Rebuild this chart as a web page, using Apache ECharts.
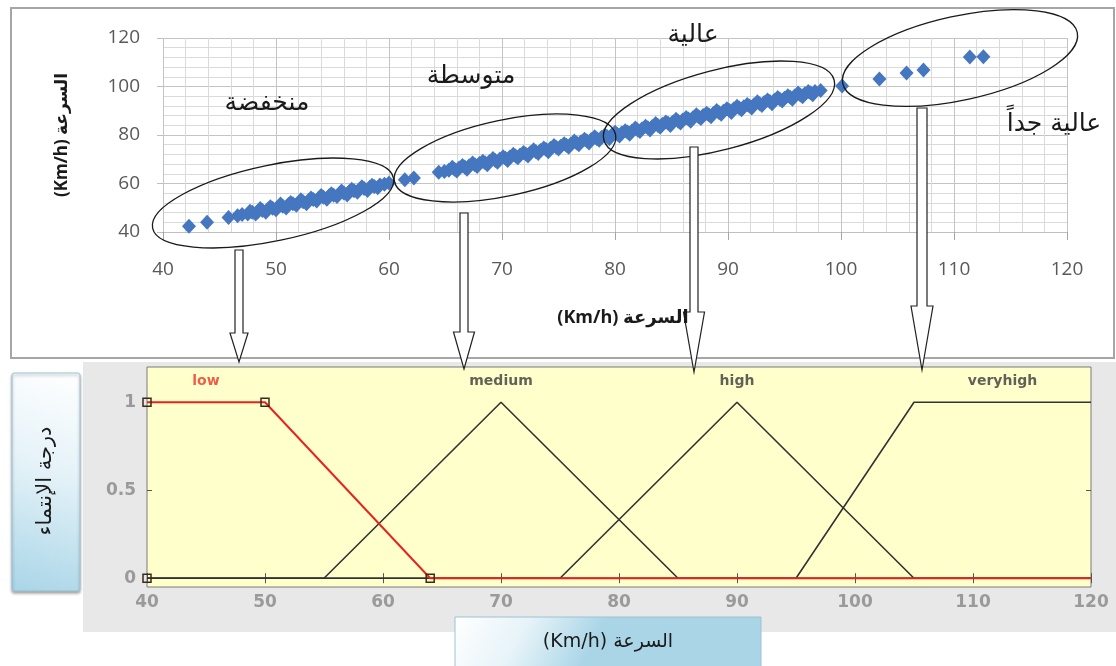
<!DOCTYPE html>
<html><head><meta charset="utf-8">
<script src="https://cdn.jsdelivr.net/npm/echarts@6/dist/echarts.min.js"></script>
<style>html,body{margin:0;padding:0;background:#fff}#c{width:1116px;height:666px}</style>
</head><body><div id="c"></div>
<script>
const speedMain = [[42.3,42.4],[43.9,44.0],[45.8,46.0],[46.6,46.7],[47.0,47.2],[47.5,47.4],[47.9,48.1],[48.4,48.5],[48.8,48.9],[49.3,49.5],[49.7,49.8],[50.2,50.4],[50.6,50.6],[51.1,51.3],[51.5,51.6],[52.0,52.2],[52.4,52.5],[52.9,53.1],[53.3,53.4],[53.8,54.0],[54.2,54.3],[54.7,54.9],[55.1,55.2],[55.6,55.8],[56.0,56.1],[56.5,56.7],[56.9,57.0],[57.4,57.6],[57.8,57.9],[58.3,58.5],[58.7,58.8],[59.2,59.4],[59.6,59.7],[60.0,60.2],[61.4,61.5],[62.2,62.3],[64.4,64.6],[64.9,65.0],[65.3,65.5],[65.8,65.9],[66.2,66.4],[66.7,66.8],[67.1,67.3],[67.6,67.7],[68.0,68.2],[68.5,68.6],[68.9,69.1],[69.4,69.5],[69.8,70.0],[70.3,70.4],[70.7,70.9],[71.2,71.3],[71.6,71.8],[72.1,72.2],[72.5,72.7],[73.0,73.1],[73.4,73.6],[73.9,74.0],[74.3,74.5],[74.8,74.9],[75.2,75.4],[75.7,75.8],[76.1,76.3],[76.6,76.7],[77.0,77.2],[77.5,77.6],[77.9,78.1],[78.4,78.5],[78.8,79.0],[79.3,79.4],[79.7,79.9],[80.2,80.3],[80.6,80.8],[81.1,81.2],[81.5,81.7],[82.0,82.1],[82.4,82.6],[82.9,83.0],[83.3,83.5],[83.8,83.9],[84.2,84.4],[84.7,84.8],[85.1,85.3],[85.6,85.7],[86.0,86.2],[86.5,86.6],[86.9,87.1],[87.4,87.5],[87.8,88.0],[88.3,88.4],[88.7,88.9],[89.2,89.3],[89.6,89.8],[90.1,90.2],[90.5,90.7],[91.0,91.1],[91.4,91.6],[91.9,92.0],[92.3,92.5],[92.8,92.9],[93.2,93.4],[93.7,93.8],[94.1,94.3],[94.6,94.7],[95.0,95.2],[95.5,95.6],[95.9,96.1],[96.4,96.5],[96.8,97.0],[97.3,97.4],[97.7,97.9],[98.2,98.4],[100.1,100.2],[103.4,103.1],[105.8,105.6],[107.3,106.8],[111.4,112.2],[112.6,112.3]];
const speedUpper = [[47.7,48.6],[48.6,49.7],[49.5,50.4],[50.4,51.5],[51.3,52.2],[52.2,53.3],[53.1,54.0],[54.0,55.1],[54.9,55.8],[55.8,56.9],[56.7,57.6],[57.6,58.7],[58.5,59.3],[65.6,66.7],[66.5,67.4],[67.4,68.5],[68.3,69.2],[69.2,70.3],[70.1,71.0],[71.0,72.1],[71.9,72.8],[72.8,73.9],[73.7,74.6],[74.6,75.7],[75.5,76.4],[76.4,77.5],[77.3,78.2],[78.2,79.3],[79.1,80.0],[80.0,81.1],[80.9,81.8],[81.8,82.9],[82.7,83.6],[83.6,84.7],[84.5,85.4],[85.4,86.5],[86.3,87.2],[87.2,88.3],[88.1,89.0],[89.0,90.1],[89.9,90.8],[90.8,91.9],[91.7,92.6],[92.6,93.7],[93.5,94.4],[94.4,95.5],[95.3,96.2],[96.2,97.3],[97.1,97.9]];
const speedLower = [[48.2,47.4],[49.1,48.1],[50.0,49.2],[50.9,49.9],[51.8,51.0],[52.7,51.7],[53.6,52.8],[54.5,53.5],[55.4,54.6],[56.3,55.3],[57.2,56.4],[58.1,57.1],[59.0,58.2],[66.0,65.2],[66.9,65.9],[67.8,67.0],[68.7,67.7],[69.6,68.8],[70.5,69.5],[71.4,70.6],[72.3,71.3],[73.2,72.4],[74.1,73.1],[75.0,74.2],[75.9,74.9],[76.8,76.0],[77.7,76.7],[78.6,77.8],[79.5,78.5],[80.4,79.6],[81.3,80.3],[82.2,81.4],[83.1,82.1],[84.0,83.2],[84.9,83.9],[85.8,85.0],[86.7,85.7],[87.6,86.8],[88.5,87.5],[89.4,88.6],[90.3,89.3],[91.2,90.4],[92.1,91.1],[93.0,92.2],[93.9,92.9],[94.8,94.0],[95.7,94.7],[96.6,95.8],[97.5,96.6]];

// ---------- data (bottom: membership functions) ----------
const mfLow = [[40,1],[50,1],[64,0],[120,0]];
const mfMedium = [[40,0],[55,0],[70,1],[85,0],[120,0]];
const mfHigh = [[40,0],[75,0],[90,1],[105,0],[120,0]];
const mfVeryHigh = [[40,0],[95,0],[105,1],[120,1]];
const lowParams = [[40,1],[50,1],[64,0],[40,0]];
const mfNames = ['low','medium','high','veryhigh'];
const mfLabelX = [45,70,90,112.5];
const mfLabelY = 1.12;
const memberTicks = [0,0.5,1];

// ---------- texts ----------
const regionNames = ['منخفضة','متوسطة','عالية','عالية جداً'];
const speedTitle = '(Km/h) السرعة';
const memberTitle = 'درجة الإنتماء';

// ---------- layout of annotations (pixels) ----------
const regionPos = [[267,103],[471,76],[693,35],[1054,124]];
const ellipses = [[273,203,123,38,11.8],[505,158,113,38,12],[719,110,119,40,14.6],[960,58,120,42,12.3]];
const arrows = [[239,250,362,4,9,29],[464,213,369,4,10.5,37],[694,147,372,4,10.5,60],[922,108,370,5,11,64]];

const scatterData = speedMain.concat(speedUpper, speedLower);
const blue = '#4577c0';
const ff = "'Open Sans','DejaVu Sans',sans-serif";
const ar = "'DejaVu Sans',sans-serif";

const graphic = [];
graphic.push({type:'rect', z:-10, shape:{x:11,y:8,width:1103,height:350}, style:{fill:'#fff',stroke:'#a6a6a6',lineWidth:2}});
graphic.push({type:'rect', z:-10, shape:{x:83,y:362,width:1033,height:270}, style:{fill:'#e8e8e8'}});
graphic.push({type:'rect', z:-5, shape:{x:12,y:373,width:68,height:218,r:2},
  style:{fill:{type:'linear',x:1,y:0,x2:0,y2:1,colorStops:[{offset:0,color:'#ffffff'},{offset:0.45,color:'#e4f2f8'},{offset:1,color:'#a9d5e7'}]},
  stroke:'#9cc3d3',lineWidth:1,shadowBlur:3,shadowColor:'rgba(0,0,0,0.35)',shadowOffsetY:2}});
graphic.push({type:'rect', z:-5, shape:{x:455,y:617,width:306,height:60},
  style:{fill:{type:'linear',x:0,y:0,x2:0.4,y2:1,colorStops:[{offset:0,color:'#ffffff'},{offset:0.5,color:'#e6f3f8'},{offset:1,color:'#a9d5e7'}]},
  stroke:'#9cc3d3',lineWidth:1}});
ellipses.forEach(e=>{
  graphic.push({type:'ellipse', z:50, x:e[0], y:e[1], rotation:e[4]*Math.PI/180,
    shape:{cx:0,cy:0,rx:e[2],ry:e[3]}, style:{fill:'transparent',stroke:'#1a1a1a',lineWidth:1.3}});
});
arrows.forEach(a=>{
  const [cx,y0,y1,w,h,L]=a;
  graphic.push({type:'polygon', z:60, shape:{points:[[cx-w,y0],[cx+w,y0],[cx+w,y1-L],[cx+h,y1-L],[cx,y1],[cx-h,y1-L],[cx-w,y1-L]]},
    style:{fill:'#fff',stroke:'#222',lineWidth:1.2}});
});
regionNames.forEach((t,i)=>{
  graphic.push({type:'text', z:70, x:regionPos[i][0], y:regionPos[i][1],
    style:{text:t, fill:'#1a1a1a', fontSize:25, fontFamily:ar, align:'center', verticalAlign:'middle'}});
});
graphic.push({type:'text', z:70, x:623, y:318, style:{text:speedTitle, fill:'#1a1a1a', fontSize:18, fontWeight:'bold', fontFamily:ff, align:'center', verticalAlign:'middle'}});
graphic.push({type:'text', z:70, x:62, y:135, rotation:Math.PI/2, style:{text:speedTitle, fill:'#1a1a1a', fontSize:17, fontWeight:'bold', fontFamily:ff, align:'center', verticalAlign:'middle'}});
graphic.push({type:'text', z:70, x:46, y:481, rotation:Math.PI/2, style:{text:memberTitle, fill:'#1a1a1a', fontSize:21, fontFamily:ar, align:'center', verticalAlign:'middle'}});
graphic.push({type:'text', z:70, x:608, y:642, style:{text:speedTitle, fill:'#1a1a1a', fontSize:19, fontFamily:ar, align:'center', verticalAlign:'middle'}});

const grayLbl = {color:'#9a9a9a', fontSize:17, fontWeight:'bold', fontFamily:"'DejaVu Sans',sans-serif"};

const option = {
  animation:false,
  grid:[
    {left:163, top:38, width:904, height:194, show:false},
    {left:147, top:367, width:944, height:220, show:true, backgroundColor:'#ffffcc', borderColor:'#7a7a7a', borderWidth:1}
  ],
  xAxis:[
    {type:'value', gridIndex:0, min:40, max:120, interval:10,
      axisLine:{show:true, lineStyle:{color:'#bfbfbf'}},
      axisTick:{show:true, length:8, lineStyle:{color:'#a6a6a6'}},
      axisLabel:{margin:28, color:'#595959', fontSize:19, fontFamily:ff},
      splitLine:{show:true, lineStyle:{color:'#c4c4c4'}},
      minorTick:{show:false, splitNumber:5},
      minorSplitLine:{show:true, lineStyle:{color:'#dadada'}}},
    {type:'value', gridIndex:1, min:40, max:120, interval:10,
      axisLine:{show:false},
      axisTick:{show:true, inside:true, length:5, lineStyle:{color:'#555'}},
      axisLabel:Object.assign({margin:7}, grayLbl),
      splitLine:{show:false}},
    {type:'value', gridIndex:1, position:'top', min:40, max:120, interval:10,
      axisLine:{show:false}, axisLabel:{show:false}, splitLine:{show:false},
      axisTick:{show:true, inside:true, length:5, lineStyle:{color:'#555'}}}
  ],
  yAxis:[
    {type:'value', gridIndex:0, min:40, max:120, interval:20,
      axisLine:{show:false},
      axisTick:{show:true, length:6, lineStyle:{color:'#bfbfbf'}},
      axisLabel:{margin:23, color:'#595959', fontSize:19, fontFamily:ff},
      splitLine:{show:true, lineStyle:{color:'#c4c4c4'}},
      minorTick:{show:false, splitNumber:5},
      minorSplitLine:{show:true, lineStyle:{color:'#dadada'}}},
    {type:'value', gridIndex:1, min:-0.05, max:1.2,
      axisLine:{show:false},
      axisTick:{show:true, inside:true, length:5, customValues:memberTicks, lineStyle:{color:'#555'}},
      axisLabel:Object.assign({margin:11, customValues:memberTicks}, grayLbl),
      splitLine:{show:false}},
    {type:'value', gridIndex:1, position:'right', min:-0.05, max:1.2,
      axisLine:{show:false}, axisLabel:{show:false}, splitLine:{show:false},
      axisTick:{show:true, inside:true, length:5, customValues:memberTicks, lineStyle:{color:'#555'}}}
  ],
  series:[
    {type:'scatter', xAxisIndex:0, yAxisIndex:0, symbol:'diamond', symbolSize:[14,15],
      itemStyle:{color:blue, opacity:1}, data:scatterData, z:5},
    {type:'line', xAxisIndex:1, yAxisIndex:1, data:mfMedium, symbol:'none', lineStyle:{color:'#333', width:1.6}},
    {type:'line', xAxisIndex:1, yAxisIndex:1, data:mfHigh, symbol:'none', lineStyle:{color:'#333', width:1.6}},
    {type:'line', xAxisIndex:1, yAxisIndex:1, data:mfVeryHigh, symbol:'none', lineStyle:{color:'#333', width:1.6}},
    {type:'line', xAxisIndex:1, yAxisIndex:1, data:mfLow, symbol:'none', lineStyle:{color:'#e8231f', width:2}, z:4},
    {type:'scatter', xAxisIndex:1, yAxisIndex:1, data:lowParams, symbol:'rect', symbolSize:8, clip:true,
      itemStyle:{color:'transparent', borderColor:'#3a2a1a', borderWidth:1.5, opacity:1}, z:6},
    {type:'scatter', xAxisIndex:1, yAxisIndex:1, symbolSize:0, z:7,
      data:mfNames.map((n,i)=>({value:[mfLabelX[i], mfLabelY], name:n,
        label:{color: i===0 ? '#e8352c' : '#3a3a3a'}})),
      label:{show:true, position:'inside', formatter:p=>p.name, fontSize:14, fontWeight:'bold', fontFamily:"'DejaVu Sans',sans-serif"}}
  ],
  graphic: graphic
};
const chart = echarts.init(document.getElementById('c'), null, {renderer:'canvas'});
chart.setOption(option);
</script></body></html>
